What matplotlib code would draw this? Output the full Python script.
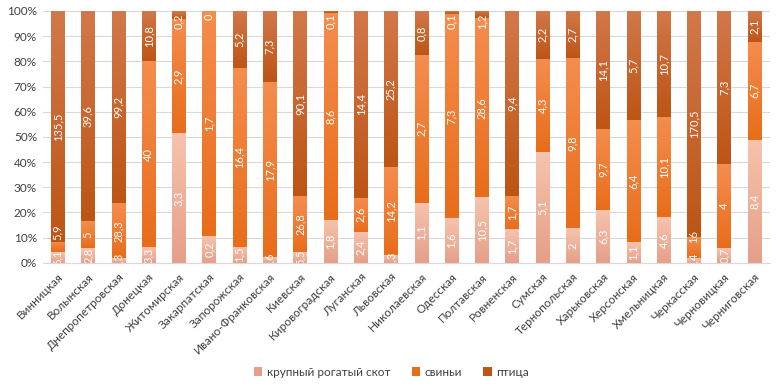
import numpy as np
import matplotlib
matplotlib.use('Agg')
import matplotlib.pyplot as plt
from matplotlib.colors import LinearSegmentedColormap
from matplotlib.ticker import PercentFormatter

plt.rcParams['font.family'] = ['Lato', 'Open Sans', 'DejaVu Sans']

regions = ['Винницкая', 'Волынская', 'Днепропетровская', 'Донецкая', 'Житомирская',
           'Закарпатская', 'Запорожская', 'Ивано-Франковская', 'Киевская', 'Кировоградская',
           'Луганская', 'Львовская', 'Николаевская', 'Одесская', 'Полтавская',
           'Ровненская', 'Сумская', 'Тернопольская', 'Харьковская', 'Херсонская',
           'Хмельницкая', 'Черкасская', 'Черновицкая', 'Черниговская']
cattle = [6.1, 2.8, 2.3, 3.3, 3.3, 0.2, 1.5, 0.6, 5.5, 1.8, 2.4, 1.3, 1.1, 1.6, 10.5,
          1.7, 5.1, 2, 6.3, 1.1, 4.6, 3.4, 0.7, 8.4]
pigs = [5.9, 5, 28.3, 40, 2.9, 1.7, 16.4, 17.9, 26.8, 8.6, 2.6, 14.2, 2.7, 7.3, 28.6,
        1.7, 4.3, 9.8, 9.7, 6.4, 10.1, 16, 4, 6.7]
poultry = [135.5, 39.6, 99.2, 10.8, 0.2, 0, 5.2, 7.3, 90.1, 0.1, 14.4, 25.2, 0.8, 0.1, 1.2,
           9.4, 2.2, 2.7, 14.1, 5.7, 10.7, 170.5, 7.3, 2.1]
series_names = ['крупный рогатый скот', 'свиньи', 'птица']

# (top colour, bottom colour) for each series
grads = [('#f6c3ac', '#e69f89'), ('#f58d4e', '#e86d1a'), ('#d2784a', '#bd5515')]


def fmt(v):
    return ('%g' % v).replace('.', ',')


vals = np.array([cattle, pigs, poultry], dtype=float)
shares = vals / vals.sum(axis=0)

fig = plt.figure(figsize=(7.83, 3.9), dpi=100)
ax = fig.add_axes([0.0543, 0.326, 0.9285, 0.646])

x = np.arange(len(regions))
bottom = np.zeros(len(regions))
grad = np.linspace(0, 1, 64).reshape(-1, 1)
labels = [[None] * 3 for _ in regions]
for i in range(3):
    bars = ax.bar(x, shares[i], 0.44, bottom=bottom, color=grads[i][1],
                  label=series_names[i], zorder=2)
    cmap = LinearSegmentedColormap.from_list('g%d' % i, [grads[i][1], grads[i][0]])
    for j, b in enumerate(bars):
        h = b.get_height()
        x0 = b.get_x()
        y0 = b.get_y()
        if h > 0:
            ax.imshow(grad, extent=[x0, x0 + b.get_width(), y0, y0 + h], origin='lower',
                      cmap=cmap, aspect='auto', zorder=2.5, interpolation='bilinear')
        t = ax.text(x[j], y0 + h / 2, fmt(vals[i][j]), rotation=90, ha='center',
                    va='center', color='white', fontsize=8, zorder=4, clip_on=True)
        labels[j][i] = t
    bottom += shares[i]

ax.set_xlim(-0.5, len(regions) - 0.5)
ax.set_ylim(0, 1)
ax.set_yticks(np.arange(0, 1.01, 0.1))
ax.yaxis.set_major_formatter(PercentFormatter(1.0, decimals=0))
ax.grid(axis='y', color='#d9d9d9', linewidth=0.8, zorder=0)
ax.set_axisbelow(True)
for s in ['top', 'right', 'left']:
    ax.spines[s].set_visible(False)
ax.spines['bottom'].set_color('#d9d9d9')
ax.tick_params(axis='both', length=0, labelsize=8.5, colors='#404040')
ax.tick_params(axis='y', pad=4)
ax.set_xticks(x)
ax.set_xticklabels(regions, rotation=45, ha='right', rotation_mode='anchor')
ax.tick_params(axis='x', pad=6)

fig.legend(loc='center', bbox_to_anchor=(0.5, 0.046), ncol=3, frameon=False,
           fontsize=8.5, handlelength=0.7, handleheight=0.7, handletextpad=0.4,
           columnspacing=1.8, labelcolor='#404040')

# keep data labels from overlapping, like Excel does
fig.canvas.draw()
r = fig.canvas.get_renderer()
axh = ax.get_window_extent(r).height
for trio in labels:
    c = [t.get_position()[1] for t in trio]
    hh = [t.get_window_extent(r).height / 2 / axh for t in trio]
    for i in (1, 2):
        lo = c[i - 1] + hh[i - 1] + 0.04 + hh[i]
        if c[i] - hh[i] < c[i - 1] + hh[i - 1]:
            c[i] = lo
    c[2] = min(c[2], 0.99 - hh[2])
    for i in (1, 0):
        hi = c[i + 1] - hh[i + 1] - 0.01 - hh[i]
        if c[i] > hi:
            c[i] = hi
    for t, cy in zip(trio, c):
        t.set_y(cy)

fig.savefig('out.png', dpi=100)
